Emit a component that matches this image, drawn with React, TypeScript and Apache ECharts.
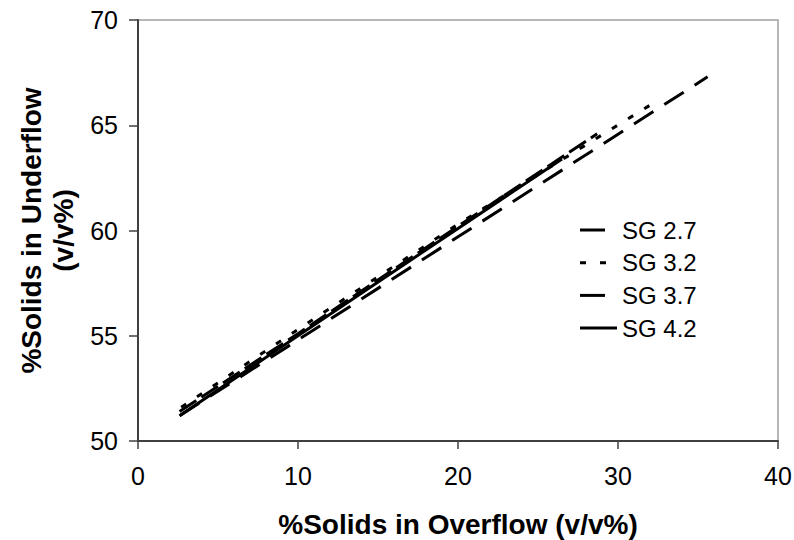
import React, { useEffect, useRef } from "react";
import * as echarts from "echarts";

const xTicks = [0, 10, 20, 30, 40];
const yTicks = [50, 55, 60, 65, 70];

const seriesNames = ["SG 2.7", "SG 3.2", "SG 3.7", "SG 4.2"];

const sg27X = [2.6, 10, 20, 28.7];
const sg27Y = [51.4, 55.1, 60.2, 64.6];
const sg32X = [2.7, 10, 20, 32.1];
const sg32Y = [51.6, 55.3, 60.3, 66.0];
const sg37X = [2.6, 10, 20, 35.6];
const sg37Y = [51.2, 54.8, 59.7, 67.3];
const sg42X = [2.6, 10, 20, 26.5];
const sg42Y = [51.2, 55.0, 60.1, 63.4];

const pair = (xs: number[], ys: number[]) => xs.map((x, i) => [x, ys[i]]);

const dashes: (number[] | "solid")[] = [[20, 6], [6, 13], [23, 13], "solid"];
const allData = [pair(sg27X, sg27Y), pair(sg32X, sg32Y), pair(sg37X, sg37Y), pair(sg42X, sg42Y)];

export default function App() {
  const ref = useRef<HTMLDivElement>(null);
  useEffect(() => {
    if (!ref.current) return;
    const chart = echarts.init(ref.current, undefined, { renderer: "svg" });
    const font = "Liberation Sans, Arial, sans-serif";
    const legendGraphics: any[] = [];
    seriesNames.forEach((n, i) => {
      const y = 230 + i * 32.7;
      legendGraphics.push({
        type: "line",
        shape: { x1: 580, y1: y, x2: i === 3 ? 617 : i === 1 ? 607 : 605, y2: y },
        style: { stroke: "#000", lineWidth: 3, lineDash: i === 1 ? [6, 14] : null },
      });
      legendGraphics.push({
        type: "text",
        x: 622,
        y: y,
        style: { text: n, fill: "#000", font: `24px ${font}`, textVerticalAlign: "middle", verticalAlign: "middle" },
      });
    });
    chart.setOption({
      animation: false,
      backgroundColor: "#fff",
      grid: {
        left: 138,
        top: 20,
        right: 16,
        bottom: 99,
        show: true,
        borderColor: "#a0a0a0",
        borderWidth: 1.5,
        containLabel: false,
        outerBoundsMode: "none",
      },
      xAxis: {
        type: "value",
        min: xTicks[0],
        max: xTicks[xTicks.length - 1],
        interval: 10,
        name: "%Solids in Overflow (v/v%)",
        nameLocation: "middle",
        nameGap: 69,
        nameTextStyle: { fontSize: 28, fontWeight: "bold", color: "#000", fontFamily: font },
        axisLine: { lineStyle: { color: "#404040", width: 2 } },
        axisTick: { show: true, length: 8, lineStyle: { color: "#404040", width: 1.5 } },
        axisLabel: { fontSize: 25, color: "#000", margin: 22, fontFamily: font },
        splitLine: { show: false },
      },
      yAxis: {
        type: "value",
        min: yTicks[0],
        max: yTicks[yTicks.length - 1],
        interval: 5,
        name: "%Solids in Underflow\n(v/v%)",
        nameLocation: "middle",
        nameGap: 58,
        nameTextStyle: { fontSize: 28, fontWeight: "bold", color: "#000", fontFamily: font, lineHeight: 32 },
        axisLine: { lineStyle: { color: "#404040", width: 2 } },
        axisTick: { show: true, length: 9, lineStyle: { color: "#404040", width: 1.5 } },
        axisLabel: { fontSize: 25, color: "#000", margin: 20, fontFamily: font },
        splitLine: { show: false },
      },
      series: seriesNames.map((n, i) => ({
        name: n,
        type: "line",
        data: allData[i],
        symbol: "none",
        lineStyle: { color: "#000", width: 3, type: dashes[i] },
      })),
      graphic: legendGraphics,
    });
    return () => chart.dispose();
  }, []);
  return <div ref={ref} style={{ width: 794, height: 540, position: "absolute", left: 0, top: 0 }} />;
}
